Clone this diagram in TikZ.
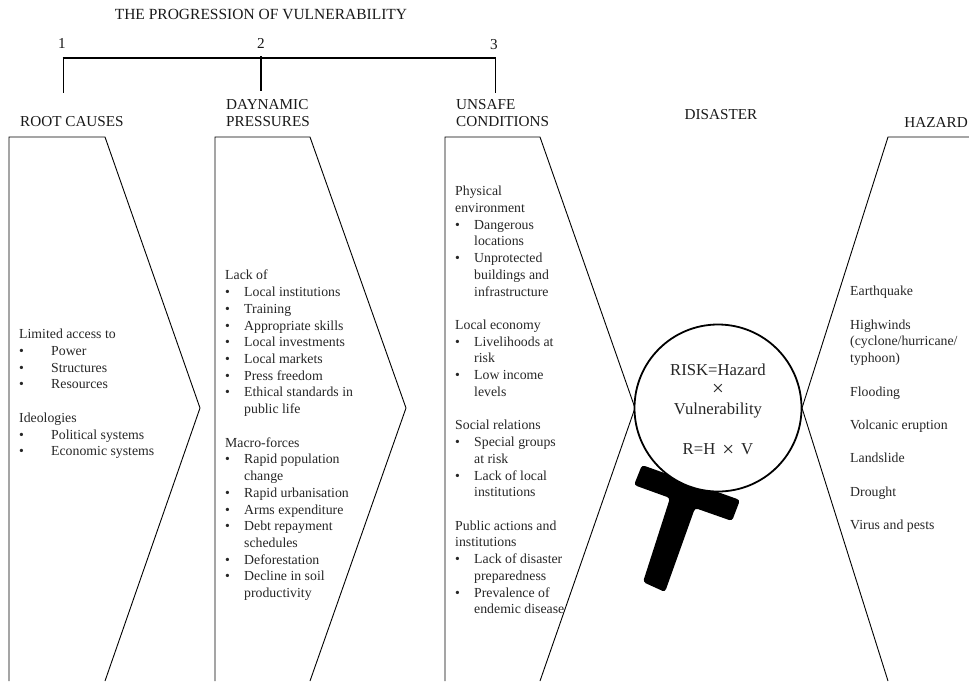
\documentclass[tikz,border=0pt]{standalone}
\usepackage{fontspec}
\setmainfont{Liberation Serif}
\usetikzlibrary{positioning}
\newcommand{\bitem}[2][19pt]{\makebox[#1][l]{•}#2}
\newcommand{\bcont}[1]{\hspace*{19pt}#1}
\tikzset{
    chevron/.style={draw=black, line width=0.9pt},
    bracket/.style={draw=black, line width=2pt},
    stub/.style={draw=black, line width=1pt},
    heading/.style={inner sep=0pt, align=left, text=black!90, font=\fontsize{15.2}{17.5}\selectfont},
    bodytext/.style={inner sep=0pt, align=left, anchor=north west, text=black!85, font=\fontsize{13.8}{16.72}\selectfont},
    risktext/.style={inner sep=0pt, text=black!85, font=\fontsize{16.7}{20}\selectfont},
}
\begin{document}
\begin{tikzpicture}[x=1pt,y=-1pt]
\useasboundingbox (0,0) rectangle (969,681);

%PROGRESSION
\node [heading,font=\fontsize{15.5}{17}\selectfont] (title) at (261,14) {THE PROGRESSION OF VULNERABILITY};
\node [heading] (numone) at (62,43) {1};
\node [heading] (numtwo) at (261,43) {2};
\node [heading] (numthree) at (494,45) {3};
\coordinate (barone) at (63,58);
\coordinate (bartwo) at (261,56);
\coordinate (barthree) at (495,58);
\coordinate (endone) at (63,93);
\coordinate (endtwo) at (261,91);
\coordinate (endthree) at (495,93);
\draw [bracket] (62.5,58)--(495.5,58);
\draw [stub] (barone)--(endone);
\draw [bracket] (bartwo)--(endtwo);
\draw [stub] (barthree)--(endthree);

%HEADINGS
\node [heading,anchor=west] (rootcauses) at (20,122) {ROOT CAUSES};
\node [heading,anchor=west] (pressures) at (226,113) {DAYNAMIC\\PRESSURES};
\node [heading,anchor=west] (unsafe) at (456,113) {UNSAFE\\CONDITIONS};
\node [heading] (disaster) at (721,115) {DISASTER};
\node [heading,anchor=east] (hazard) at (968,122) {HAZARD};

%CHEVRONS
\draw [chevron] (9,681)--(9,137)--(105,137)--(200,408)--(105,681);
\draw [chevron] (215,681)--(215,137)--(310,137)--(406,408)--(310,681);
\draw [chevron] (445,681)--(445,137)--(540,137)--(635,408)--(540,681);
\draw [chevron] (969,137)--(888,137)--(802,408)--(888,681);

%ROOT CAUSES
\node [bodytext] (roottext) at (19,329) {Limited access to\\
\bitem[32pt]{Power}\\
\bitem[32pt]{Structures}\\
\bitem[32pt]{Resources}\\[16.72pt]
Ideologies\\
\bitem[32pt]{Political systems}\\
\bitem[32pt]{Economic systems}};

%DYNAMIC PRESSURES
\node [bodytext] (pressuretext) at (225,270) {Lack of\\
\bitem{Local institutions}\\
\bitem{Training}\\
\bitem{Appropriate skills}\\
\bitem{Local investments}\\
\bitem{Local markets}\\
\bitem{Press freedom}\\
\bitem{Ethical standards in}\\
\bcont{public life}\\[16.72pt]
Macro-forces\\
\bitem{Rapid population}\\
\bcont{change}\\
\bitem{Rapid urbanisation}\\
\bitem{Arms expenditure}\\
\bitem{Debt repayment}\\
\bcont{schedules}\\
\bitem{Deforestation}\\
\bitem{Decline in soil}\\
\bcont{productivity}};

%UNSAFE CONDITIONS
\node [bodytext] (unsafetext) at (455,186) {Physical\\
environment\\
\bitem{Dangerous}\\
\bcont{locations}\\
\bitem{Unprotected}\\
\bcont{buildings and}\\
\bcont{infrastructure}\\[16.72pt]
Local economy\\
\bitem{Livelihoods at}\\
\bcont{risk}\\
\bitem{Low income}\\
\bcont{levels}\\[16.72pt]
Social relations\\
\bitem{Special groups}\\
\bcont{at risk}\\
\bitem{Lack of local}\\
\bcont{institutions}\\[16.72pt]
Public actions and\\
institutions\\
\bitem{Lack of disaster}\\
\bcont{preparedness}\\
\bitem{Prevalence of}\\
\bcont{endemic disease}};

%HAZARD
\node [bodytext] (hazardtext) at (850,286) {Earthquake\\[16.72pt]
Highwinds\\
(cyclone/hurricane/\\
typhoon)\\[16.72pt]
Flooding\\[16.72pt]
Volcanic eruption\\[16.72pt]
Landslide\\[16.72pt]
Drought\\[16.72pt]
Virus and pests};

%MAGNIFIER
\fill [black,rounded corners=3pt] (642,465)--(634,485)--(670,498)--(643,582)--(665,592)--(695,508)--(732,521)--(740,500)--cycle;
\draw [fill=white,line width=1.8pt] (718,408) circle (83.5);
\node [risktext] (riskone) at (718,370) {RISK=Hazard};
\node [risktext,font=\fontsize{21}{20}\selectfont] (risktimes) at (718,390) {×};
\node [risktext] (risktwo) at (718,410) {Vulnerability};
\node [risktext] (riskthree) at (718,450) {R=H\hspace{7pt}\raisebox{-1.5pt}{\fontsize{21}{20}\selectfont ×}\hspace{7pt}V};
\end{tikzpicture}
\end{document}
